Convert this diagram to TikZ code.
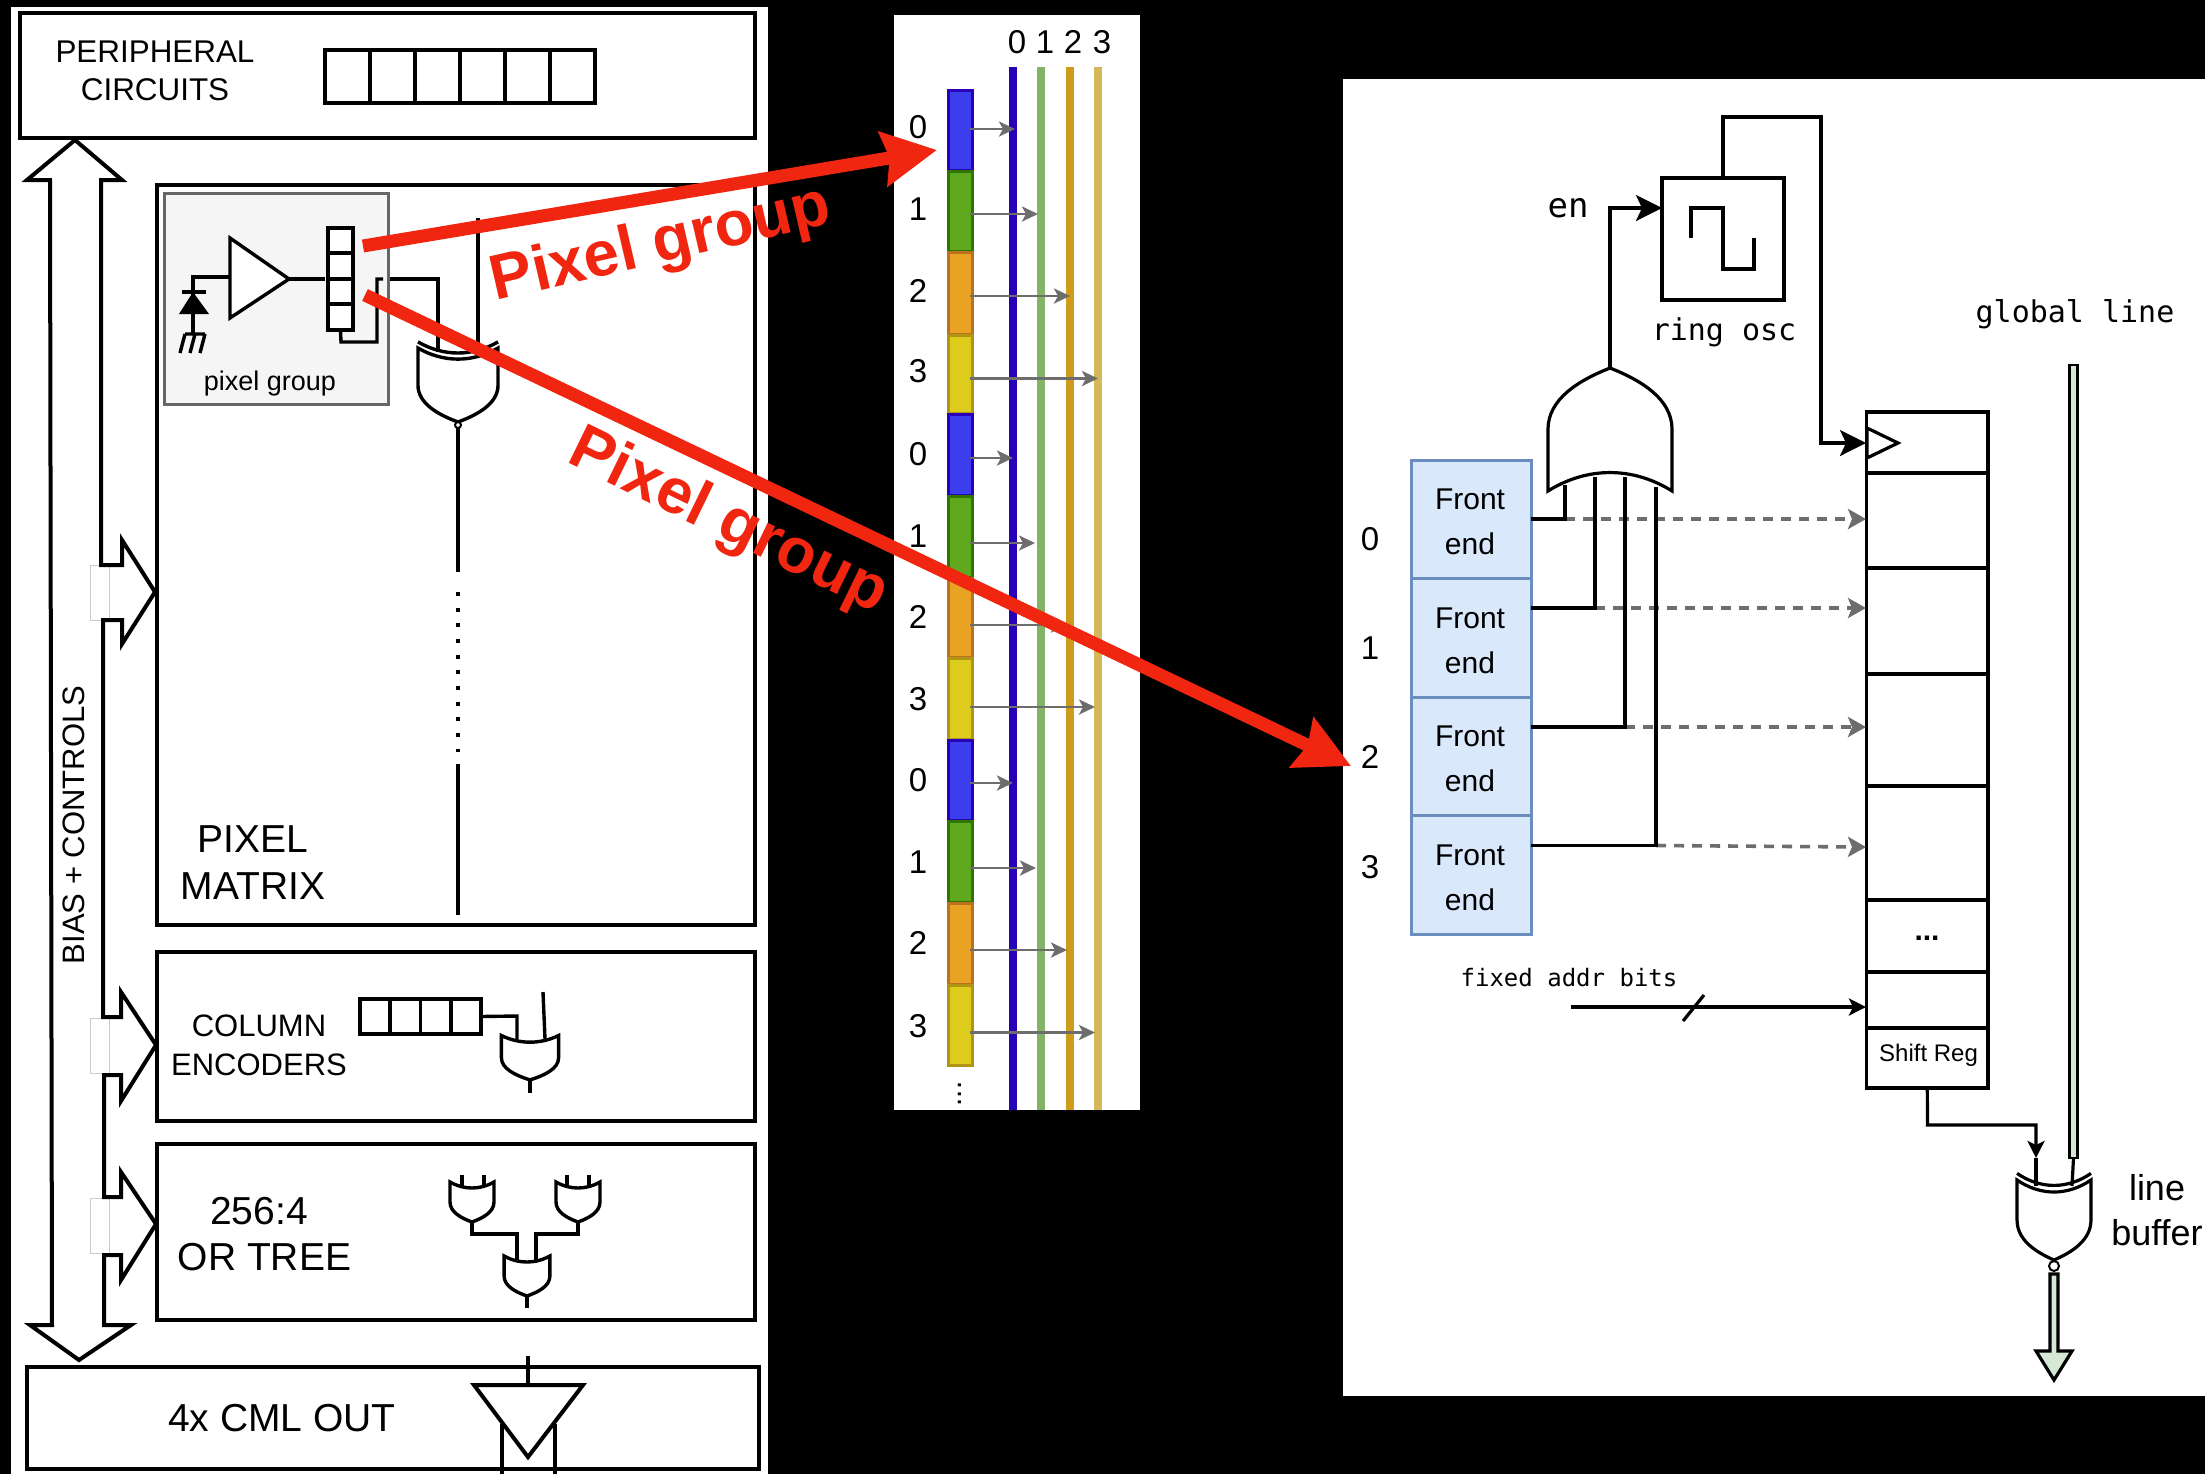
\documentclass[tikz,border=0pt]{standalone}
\usepackage{fontspec}
\setmainfont{Liberation Sans}
\newfontfamily\monofont{DejaVu Sans Mono}
\usetikzlibrary{positioning, arrows.meta}
\definecolor{redline}{RGB}{240,38,16}
\definecolor{arrowgray}{RGB}{109,109,109}
\definecolor{fefill}{RGB}{218,232,252}
\definecolor{festroke}{RGB}{108,142,191}
\definecolor{greenfill}{RGB}{213,232,212}
\definecolor{bar0}{RGB}{58,62,236}
\definecolor{bar1}{RGB}{96,169,31}
\definecolor{bar2}{RGB}{232,163,36}
\definecolor{bar3}{RGB}{222,204,28}
\definecolor{edge0}{RGB}{42,0,184}
\definecolor{edge1}{RGB}{45,118,0}
\definecolor{edge2}{RGB}{189,112,30}
\definecolor{edge3}{RGB}{176,149,20}
\definecolor{lane0}{RGB}{40,0,182}
\definecolor{lane1}{RGB}{130,179,102}
\definecolor{lane2}{RGB}{208,154,28}
\definecolor{lane3}{RGB}{212,184,90}
\tikzset{
  orgate/.pic={
    \draw[fill=white] (-22,0) .. controls (-8,8) and (8,8) .. (22,0) -- (22,20)
      .. controls (22,30) and (11,36) .. (0,40)
      .. controls (-11,36) and (-22,30) .. (-22,20) -- cycle;
    \coordinate (-out) at (0,40);
  },
  xorgate/.pic={
    \draw[fill=white] (-22,0) .. controls (-8,8) and (8,8) .. (22,0) -- (22,20)
      .. controls (22,30) and (11,36) .. (0,40)
      .. controls (-11,36) and (-22,30) .. (-22,20) -- cycle;
    \draw (-22,-3.3) .. controls (-8,4.7) and (8,4.7) .. (22,-3.3);
    \coordinate (-out) at (0,40);
  }
}

\begin{document}
\begin{tikzpicture}[x=0.5pt, y=-0.5pt,
  every node/.style={inner sep=0pt, outer sep=0pt},
  box/.style={draw, line width=2pt},
  cell/.style={draw, fill=white, line width=2pt, anchor=north west},
  thin cell/.style={draw, fill=white, line width=1.6pt, anchor=north},
  wire/.style={line width=1.7pt},
  fine/.style={line width=1.6pt},
  sans/.style={font=\fontsize{15.7}{19}\selectfont, align=center},
  big/.style={font=\fontsize{19.5}{23.5}\selectfont, align=center},
  digit/.style={font=\fontsize{16.5}{20}\selectfont},
  mono/.style={font=\monofont\fontsize{15}{18}\selectfont},
  fe/.style={draw=festroke, fill=fefill, line width=1.5pt, minimum width=60pt,
             minimum height=59.25pt},
  fetxt/.style={font=\fontsize{15}{22.5}\selectfont, align=center},
  grayarrow/.style={-{Stealth[length=8pt, width=7.5pt, inset=2pt]}, arrowgray, line width=1.4pt},
  dashwire/.style={-{Stealth[length=9pt, width=10pt, inset=2pt]}, arrowgray, line width=1.8pt,
                   dash pattern=on 5pt off 4pt},
  blackarrow/.style={-{Stealth[length=13pt, width=13pt, inset=3pt]}, line width=1.6pt},
  smallarrow/.style={-{Stealth[length=8.5pt, width=8.5pt, inset=2pt]}, line width=1.6pt},
  redarrow/.style={-{Stealth[length=27pt, width=27pt, inset=3pt]}, redline, line width=6.5pt},
  redtext/.style={font=\bfseries\fontsize{31.8}{38}\selectfont, text=redline},
  stub/.style={draw=black!20, line width=0.5pt, fill=white}]
\useasboundingbox (0,0) rectangle (2205,1474);
\fill[black] (0,0) rectangle (2205,1474);
\fill[white] (11,7) rectangle (768,1474);
\fill[white] (894,15) rectangle (1140,1110);
\fill[white] (1343,79) rectangle (2205,1396);

\node[box, minimum width=367.5pt, minimum height=62.75pt] (periph) at (387.5,75.25) {};
\node[sans] (periphtxt) at (155,71) {PERIPHERAL\\CIRCUITS};
\foreach \i in {0,...,5}
  \node[cell, minimum width=22.5pt, minimum height=26.5pt] (pr\i) at ({325+45*\i},50) {};

\fill[white] (75,140) -- (122,180) -- (101,180) -- (101,565) -- (122,565) -- (122,540)
  -- (155,592) -- (122,644) -- (122,620) -- (103,620) -- (103,1017) -- (121,1017)
  -- (121,992) -- (156,1045) -- (121,1101) -- (121,1075) -- (104,1075) -- (104,1197)
  -- (121,1197) -- (121,1172) -- (156,1224) -- (121,1280) -- (121,1255) -- (104,1255)
  -- (104,1325) -- (131,1325) -- (79,1360) -- (30,1325) -- (52,1325) -- (50,180)
  -- (27,180) -- cycle;
\foreach \n/\y in {a/592.5,b/1046,c/1226}
  \node[stub, minimum width=9.5pt, minimum height=27.5pt] (stub\n) at (99.5,\y) {};
\draw[line width=2pt, line join=miter] (75,140) -- (122,180) -- (101,180) -- (101,565)
  -- (122,565) -- (122,540) -- (155,592) -- (122,644) -- (122,620) -- (103,620) -- (103,1017)
  -- (121,1017) -- (121,992) -- (156,1045) -- (121,1101) -- (121,1075) -- (104,1075)
  -- (104,1197) -- (121,1197) -- (121,1172) -- (156,1224) -- (121,1280) -- (121,1255)
  -- (104,1255) -- (104,1325) -- (131,1325) -- (79,1360) -- (30,1325) -- (52,1325)
  -- (50,180) -- (27,180) -- cycle;
\node[sans, rotate=90, font=\fontsize{15.5}{19}\selectfont] (bias) at (74,825) {BIAS + CONTROLS};

\node[box, minimum width=299pt, minimum height=370pt] (matrix) at (456,555) {};
\node[big] (matrixtxt) at (253,863) {PIXEL\\MATRIX};
\node[box, draw=black!60, fill=black!4, line width=1.5pt, minimum width=112pt,
      minimum height=105.75pt] (group) at (276,298.75) {};
\node[font=\fontsize{13.5}{16}\selectfont] (grouptxt) at (270,384) {pixel group};

\coordinate (ampin) at (230,277);
\coordinate (ampout) at (289,279);
\coordinate (pgin) at (325,279);
\coordinate (diodetop) at (193,292);
\coordinate (gndtop) at (193,334);
\draw[wire] (ampin) -- (193,277) -- (diodetop);
\draw[wire] (diodetop) -- (gndtop);
\draw[wire] (182,292) -- (206,292);
\fill[black] (diodetop) -- (209,314) -- (179,314) -- cycle;
\draw[wire] (185,334) -- (205,334) (185,334) -- (180,353) (195,334) -- (190,353) (205,334) -- (200,353);
\draw[wire, fill=white, line join=miter] (230,238) -- (ampout) -- (230,318) -- cycle;
\draw[wire] (ampout) -- (pgin);
\foreach \i/\t/\h in {0/228/12.5,1/253/13,2/279/12.5,3/304/13}
  \node[cell, line width=1.7pt, minimum width=12.5pt, minimum height=\h pt] (pg\i) at (328,\t) {};
\coordinate (fbend) at (383,279);
\draw[wire] (pg3.south) -- (341,342) -- (377,342) -- (377,279) -- (fbend);
\coordinate (xorina) at (438,352);
\coordinate (xorinb) at (478,352);
\draw[wire] (390,279) -- (438,279) -- (xorina);
\draw[wire] (478,218) -- (xorinb);
\pic[line width=1.7pt, xscale=1.82, yscale=1.85] (xortop) at (458,348) {xorgate};
\node[circle, draw, fill=white, line width=1pt, minimum size=3pt] (xorbub) at (458,425) {};
\coordinate (colgap) at (458,572);
\coordinate (colresume) at (458,764);
\coordinate (colend) at (458,915);
\draw[wire] (xorbub) -- (colgap);
\draw[line width=2pt, dash pattern=on 2pt off 5.83pt] (458,592) -- (458,752);
\draw[wire] (colresume) -- (colend);

\node[box, minimum width=299pt, minimum height=84.25pt] (encoders) at (456,1036.25) {};
\node[sans, font=\fontsize{15.5}{19.5}\selectfont] (encoderstxt) at (259,1045) {COLUMN\\ENCODERS};
\foreach \i in {0,...,3}
  \node[cell, line width=1.7pt, minimum width=15pt, minimum height=17.5pt] (ce\i) at ({360+30*\i+\i/3},999) {};
\coordinate (encin) at (517,1039);
\draw[wire] (ce3.east) -- (517,1016) -- (encin);
\draw[wire] (543,992) -- (545,1039);
\pic[line width=1.7pt, xscale=1.3, yscale=1.11] (encor) at (530,1035.5) {orgate};
\coordinate (encout) at (530,1093);
\draw[wire] (encor-out) -- (encout);

\node[box, minimum width=299pt, minimum height=88.2pt] (ortree) at (456,1231.8) {};
\node[big] (ratiotxt) at (259,1211) {256:4};
\node[big] (ortreetxt) at (264.5,1257) {OR TREE};
\draw[wire] (462,1175) -- (462,1190) (484,1175) -- (484,1190) (567,1175) -- (567,1190) (589,1175) -- (589,1190);
\pic[line width=1.7pt] (treea) at (472,1182) {orgate};
\pic[line width=1.7pt] (treeb) at (578,1182) {orgate};
\coordinate (treein) at (517,1262);
\coordinate (treeim) at (536,1262);
\draw[wire] (treea-out) -- (472,1234) -- (517,1234) -- (treein);
\draw[wire] (treeb-out) -- (578,1234) -- (536,1234) -- (treeim);
\pic[line width=1.7pt, xscale=1.04] (treec) at (527,1256) {orgate};
\coordinate (treeout) at (527,1308);
\draw[wire] (treec-out) -- (treeout);

\node[box, minimum width=366pt, minimum height=50.75pt] (cml) at (393,1417.75) {};
\node[big] (cmltxt) at (282,1418) {4x CML OUT};
\coordinate (cmlin) at (528,1356);
\coordinate (cmltop) at (528,1385);
\draw[wire] (cmlin) -- (cmltop);
\draw[wire, line width=2pt] (501.5,1424) -- (501.5,1474) (555,1424) -- (555,1474);
\draw[line width=2pt, fill=white, line join=miter] (474,1385) -- (583,1385) -- (528,1457) -- cycle;

\foreach \k/\x/\l in {0/1013/1017,1/1041/1045,2/1070/1073,3/1098/1102}{
  \node[digit] (toplbl\k) at (\l,42) {\k};
  \coordinate (lanetop\k) at (\x,67);
  \coordinate (lanebot\k) at (\x,1110);
  \draw[lane\k, line width=4.2pt] (lanetop\k) -- (lanebot\k);
}
\foreach \n/\t/\h/\k/\ly/\ay/\xe in {
  0/90/81/0/127/129/1015, 1/171/81/1/209/214/1038, 2/252/83/2/291/296/1070,
  3/335/79/3/371/378.5/1098, 4/414/82/0/454/458/1013, 5/496/82/1/536/543/1035,
  6/578/80/2/617/625/1067, 7/658/82/3/699/707/1095, 8/740/81/0/780/783/1013,
  9/821/82/1/862/868/1036, 10/903/82/2/943/950/1067, 11/985/81/3/1026/1032.5/1095}{
  \node[draw=edge\k, fill=bar\k, line width=1.5pt, anchor=north west, minimum width=12pt,
        minimum height={(\h-1)*0.5pt}] (pix\n) at (948,\t) {};
  \node[digit] (pixlbl\n) at (918,\ly) {\k};
  \coordinate (pixend\n) at (\xe,\ay);
  \draw[grayarrow, shorten <=-1pt] (pix\n.east |- pixend\n) -- (pixend\n);
}
\node[font=\fontsize{15}{18}\selectfont, rotate=90] (pixdots) at (960,1094) {...};

\foreach \n/\t/\b in {0/412/473,1/473/568,2/568/674,3/674/786,4/786/900,5/900/972,6/972/1028,7/1028/1088}
  \node[thin cell, minimum width=60.7pt, minimum height={(\b-\t)*0.5pt}] (sr\n) at (1927.3,\t) {};
\node[font=\bfseries\fontsize{15}{18}\selectfont] (srdots) at (1927,938) {...};
\node[font=\fontsize{12}{14}\selectfont] (srlabel) at (1928.5,1055) {Shift Reg};
\draw[fine, fill=white] (1867,428) -- (1898,443) -- (1867,458) -- cycle;

\node[fe] (fe0) at (1471,519.25) {};
\node[fe, below=0pt of fe0] (fe1) {};
\node[fe, below=0pt of fe1] (fe2) {};
\node[fe, below=0pt of fe2] (fe3) {};
\foreach \n/\y in {0/539,1/648,2/757,3/867}{
  \node[digit] (felbl\n) at (1370,\y) {\n};
  \node[fetxt] (fetxt\n) at ([xshift=-0.5pt, yshift=-1.5pt]fe\n.center) {Front\\end};
}

\foreach \n/\x/\yt/\yi/\ye in {0/1565/519/485/519,1/1595/608/477/608,2/1625/727/477/727,3/1656/845.5/487/847}{
  \coordinate (tap\n) at (\x,\yt);
  \coordinate (orin\n) at (\x,\yi);
  \coordinate (dash\n) at (1866,\ye);
  \draw[dashwire] (tap\n) -- (dash\n);
  \draw[fine] (fe\n.east |- tap\n) -- (tap\n) -- (orin\n);
}
\pic[line width=1.6pt, xscale=2.82, yscale=-3.075] (orbig) at (1610,491) {orgate};
\node[mono, font=\monofont\fontsize{17}{20}\selectfont] (entxt) at (1568,208) {en};
\node[box, line width=1.6pt, minimum width=61pt, minimum height=61pt] (ring) at (1723,239) {};
\node[mono] (ringtxt) at (1724,332) {ring osc};
\coordinate (ringin) at (1662,208);
\draw[blackarrow] (orbig-out) |- (ringin);
\draw[fine] (1691,238) -- (1691,208) -- (1723,208) -- (1723,269) -- (1754,269) -- (1754,238);
\coordinate (clkin) at (1866,443);
\draw[blackarrow] (ring.north) -- (1723,117) -- (1821,117) -- (1821,443) -- (clkin);

\node[mono] (globaltxt) at (2075,314) {global line};
\node[draw, fill=greenfill, line width=1.2pt, minimum width=4pt, minimum height=396.5pt] (gline) at (2073.5,761.5) {};
\node[mono, font=\monofont\fontsize{12}{14}\selectfont] (addrtxt) at (1569,978) {fixed addr bits};
\coordinate (addrfrom) at (1570.5,1007);
\coordinate (addrto) at (1866,1007);
\draw[smallarrow] (addrfrom) -- (addrto);
\draw[fine] (1683,1021) -- (1704,995);

\coordinate (srturn) at (2036,1158);
\coordinate (xnina) at (2036,1186);
\coordinate (xninb) at (2072,1186);
\draw[smallarrow] (sr7.south) -- (1927.5,1125) -- (2036,1125) -- (srturn);
\draw[fine] (srturn) -- (xnina);
\draw[fine] (gline.south) -- (xninb);
\pic[line width=1.6pt, xscale=1.68, yscale=2] (xnor) at (2054,1180) {xorgate};
\node[circle, draw, fill=white, line width=1pt, minimum size=5pt] (xnbub) at (2054,1266) {};
\draw[fine, fill=greenfill, line join=miter] (2050,1274) -- (2058,1274) -- (2058,1351) -- (2072,1351)
  -- (2054,1380) -- (2036,1351) -- (2050,1351) -- cycle;
\node[font=\fontsize{18}{22.5}\selectfont, align=center] (linetxt) at (2157,1210) {line\\buffer};

\coordinate (redstarta) at (363,246);
\coordinate (redtipa) at (937,150);
\coordinate (redstartb) at (365,295);
\coordinate (redtipb) at (1351,766);
\draw[redarrow] (redstarta) -- (redtipa);
\draw[redarrow] (redstartb) -- (redtipb);
\node[redtext, rotate=13] (redtxta) at (661,246) {Pixel group};
\node[redtext, rotate=-26] (redtxtb) at (728,523) {Pixel group};
\end{tikzpicture}
\end{document}
